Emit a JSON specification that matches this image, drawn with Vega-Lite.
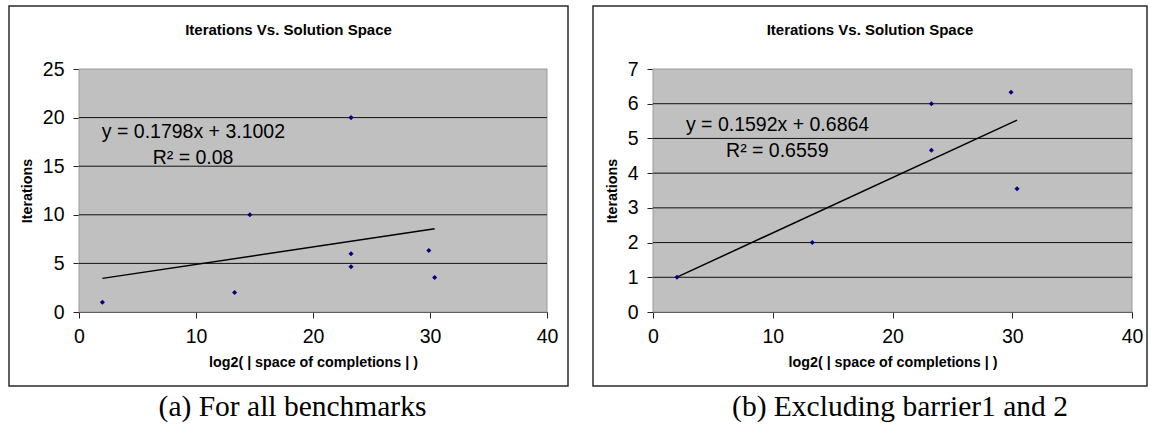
{
  "$schema": "https://vega.github.io/schema/vega-lite/v6.json",
  "background": "white",
  "padding": {"left": 8, "top": 5, "right": 0, "bottom": 0},
  "spacing": 23,
  "config": {
    "view": {"stroke": "#2b2b2b", "strokeWidth": 1.5, "fill": "white"},
    "axis": {
      "grid": false,
      "domainColor": "#222",
      "domainWidth": 1,
      "tickColor": "#222",
      "tickSize": 6,
      "labelFont": "Liberation Sans",
      "labelFontSize": 19.5,
      "labelColor": "black",
      "labelPadding": 9,
      "labelFlush": false,
      "labelOverlap": false,
      "format": "d",
      "titleFont": "Liberation Sans",
      "titleFontSize": 14.3,
      "titleFontWeight": "bold",
      "titleColor": "black",
      "zindex": 1
    },
    "title": {"font": "Liberation Sans", "fontSize": 15, "fontWeight": "bold", "color": "black"}
  },
  "datasets": {
    "ptsA": [
      {"x": 2.0, "y": 1},
      {"x": 13.3, "y": 2},
      {"x": 14.6, "y": 10},
      {"x": 23.25, "y": 20},
      {"x": 23.25, "y": 6},
      {"x": 23.25, "y": 4.66},
      {"x": 29.9, "y": 6.33},
      {"x": 30.4, "y": 3.55}
    ],
    "ptsB": [
      {"x": 2.0, "y": 1},
      {"x": 13.3, "y": 2},
      {"x": 23.25, "y": 6},
      {"x": 23.25, "y": 4.66},
      {"x": 29.9, "y": 6.33},
      {"x": 30.4, "y": 3.55}
    ],
    "trendA": [{"x": 2.0, "y": 3.46}, {"x": 30.4, "y": 8.566}],
    "trendB": [{"x": 2.0, "y": 1.005}, {"x": 30.4, "y": 5.526}],
    "gridA": [{"y": 5}, {"y": 10}, {"y": 15}, {"y": 20}],
    "gridB": [{"y": 1}, {"y": 2}, {"y": 3}, {"y": 4}, {"y": 5}, {"y": 6}],
    "eqA": [
      {"x": 1.95, "y": 18.5, "t": "y = 0.1798x + 3.1002"},
      {"x": 6.3, "y": 15.8, "t": "R² = 0.08"}
    ],
    "eqB": [
      {"x": 2.75, "y": 5.38, "t": "y = 0.1592x + 0.6864"},
      {"x": 6.1, "y": 4.64, "t": "R² = 0.6559"}
    ],
    "boxA": [{"x0": 0, "x1": 40, "y0": 0, "y1": 25}],
    "boxB": [{"x0": 0, "x1": 40, "y0": 0, "y1": 7}]
  },
  "hconcat": [
    {
      "title": {"text": "(a) For all benchmarks", "orient": "bottom", "anchor": "middle", "font": "Liberation Serif", "fontSize": 29.5, "fontWeight": "normal", "offset": 6, "dx": 4},
      "vconcat": [
        {
          "width": 559,
          "height": 380,
          "title": {"text": "Iterations Vs. Solution Space", "offset": -32},
          "layer": [
            {
              "data": {"name": "boxA"},
              "mark": {"type": "rect", "fill": "#c0c0c0", "stroke": "#9a9a9a", "strokeWidth": 1},
              "encoding": {
                "x": {"field": "x0", "type": "quantitative",
                  "scale": {"domain": [0, 40], "range": [70, 538], "nice": false, "zero": false},
                  "axis": {"offset": -74, "values": [0, 10, 20, 30, 40], "title": "log2( | space of completions | )", "titlePadding": 10}},
                "x2": {"field": "x1"},
                "y": {"field": "y0", "type": "quantitative",
                  "scale": {"domain": [0, 25], "range": [306, 63], "nice": false, "zero": false},
                  "axis": {"offset": -70, "values": [0, 5, 10, 15, 20, 25], "title": "Iterations", "titlePadding": 8}},
                "y2": {"field": "y1"}
              }
            },
            {
              "data": {"name": "gridA"},
              "mark": {"type": "rule", "color": "#111", "strokeWidth": 1},
              "encoding": {
                "y": {"field": "y", "type": "quantitative"},
                "x": {"datum": 0},
                "x2": {"datum": 40}
              }
            },
            {
              "data": {"name": "trendA"},
              "mark": {"type": "line", "color": "black", "strokeWidth": 1.5},
              "encoding": {
                "x": {"field": "x", "type": "quantitative"},
                "y": {"field": "y", "type": "quantitative"}
              }
            },
            {
              "data": {"name": "ptsA"},
              "mark": {"type": "point", "shape": "diamond", "filled": true, "color": "#000080", "size": 26, "opacity": 1},
              "encoding": {
                "x": {"field": "x", "type": "quantitative"},
                "y": {"field": "y", "type": "quantitative"}
              }
            },
            {
              "data": {"name": "eqA"},
              "mark": {"type": "text", "font": "Liberation Sans", "fontSize": 19.5, "align": "left", "baseline": "middle", "color": "black"},
              "encoding": {
                "x": {"field": "x", "type": "quantitative"},
                "y": {"field": "y", "type": "quantitative"},
                "text": {"field": "t"}
              }
            }
          ]
        }
      ]
    },
    {
      "title": {"text": "(b) Excluding barrier1 and 2", "orient": "bottom", "anchor": "middle", "font": "Liberation Serif", "fontSize": 29.5, "fontWeight": "normal", "offset": 6, "dx": 30},
      "vconcat": [
        {
          "width": 554,
          "height": 380,
          "title": {"text": "Iterations Vs. Solution Space", "offset": -32},
          "layer": [
            {
              "data": {"name": "boxB"},
              "mark": {"type": "rect", "fill": "#c0c0c0", "stroke": "#9a9a9a", "strokeWidth": 1},
              "encoding": {
                "x": {"field": "x0", "type": "quantitative",
                  "scale": {"domain": [0, 40], "range": [60, 539], "nice": false, "zero": false},
                  "axis": {"offset": -74, "values": [0, 10, 20, 30, 40], "title": "log2( | space of completions | )", "titlePadding": 10}},
                "x2": {"field": "x1"},
                "y": {"field": "y0", "type": "quantitative",
                  "scale": {"domain": [0, 7], "range": [306, 63], "nice": false, "zero": false},
                  "axis": {"offset": -60, "values": [0, 1, 2, 3, 4, 5, 6, 7], "title": "Iterations", "titlePadding": 8}},
                "y2": {"field": "y1"}
              }
            },
            {
              "data": {"name": "gridB"},
              "mark": {"type": "rule", "color": "#111", "strokeWidth": 1},
              "encoding": {
                "y": {"field": "y", "type": "quantitative"},
                "x": {"datum": 0},
                "x2": {"datum": 40}
              }
            },
            {
              "data": {"name": "trendB"},
              "mark": {"type": "line", "color": "black", "strokeWidth": 1.5},
              "encoding": {
                "x": {"field": "x", "type": "quantitative"},
                "y": {"field": "y", "type": "quantitative"}
              }
            },
            {
              "data": {"name": "ptsB"},
              "mark": {"type": "point", "shape": "diamond", "filled": true, "color": "#000080", "size": 26, "opacity": 1},
              "encoding": {
                "x": {"field": "x", "type": "quantitative"},
                "y": {"field": "y", "type": "quantitative"}
              }
            },
            {
              "data": {"name": "eqB"},
              "mark": {"type": "text", "font": "Liberation Sans", "fontSize": 19.5, "align": "left", "baseline": "middle", "color": "black"},
              "encoding": {
                "x": {"field": "x", "type": "quantitative"},
                "y": {"field": "y", "type": "quantitative"},
                "text": {"field": "t"}
              }
            }
          ]
        }
      ]
    }
  ]
}
